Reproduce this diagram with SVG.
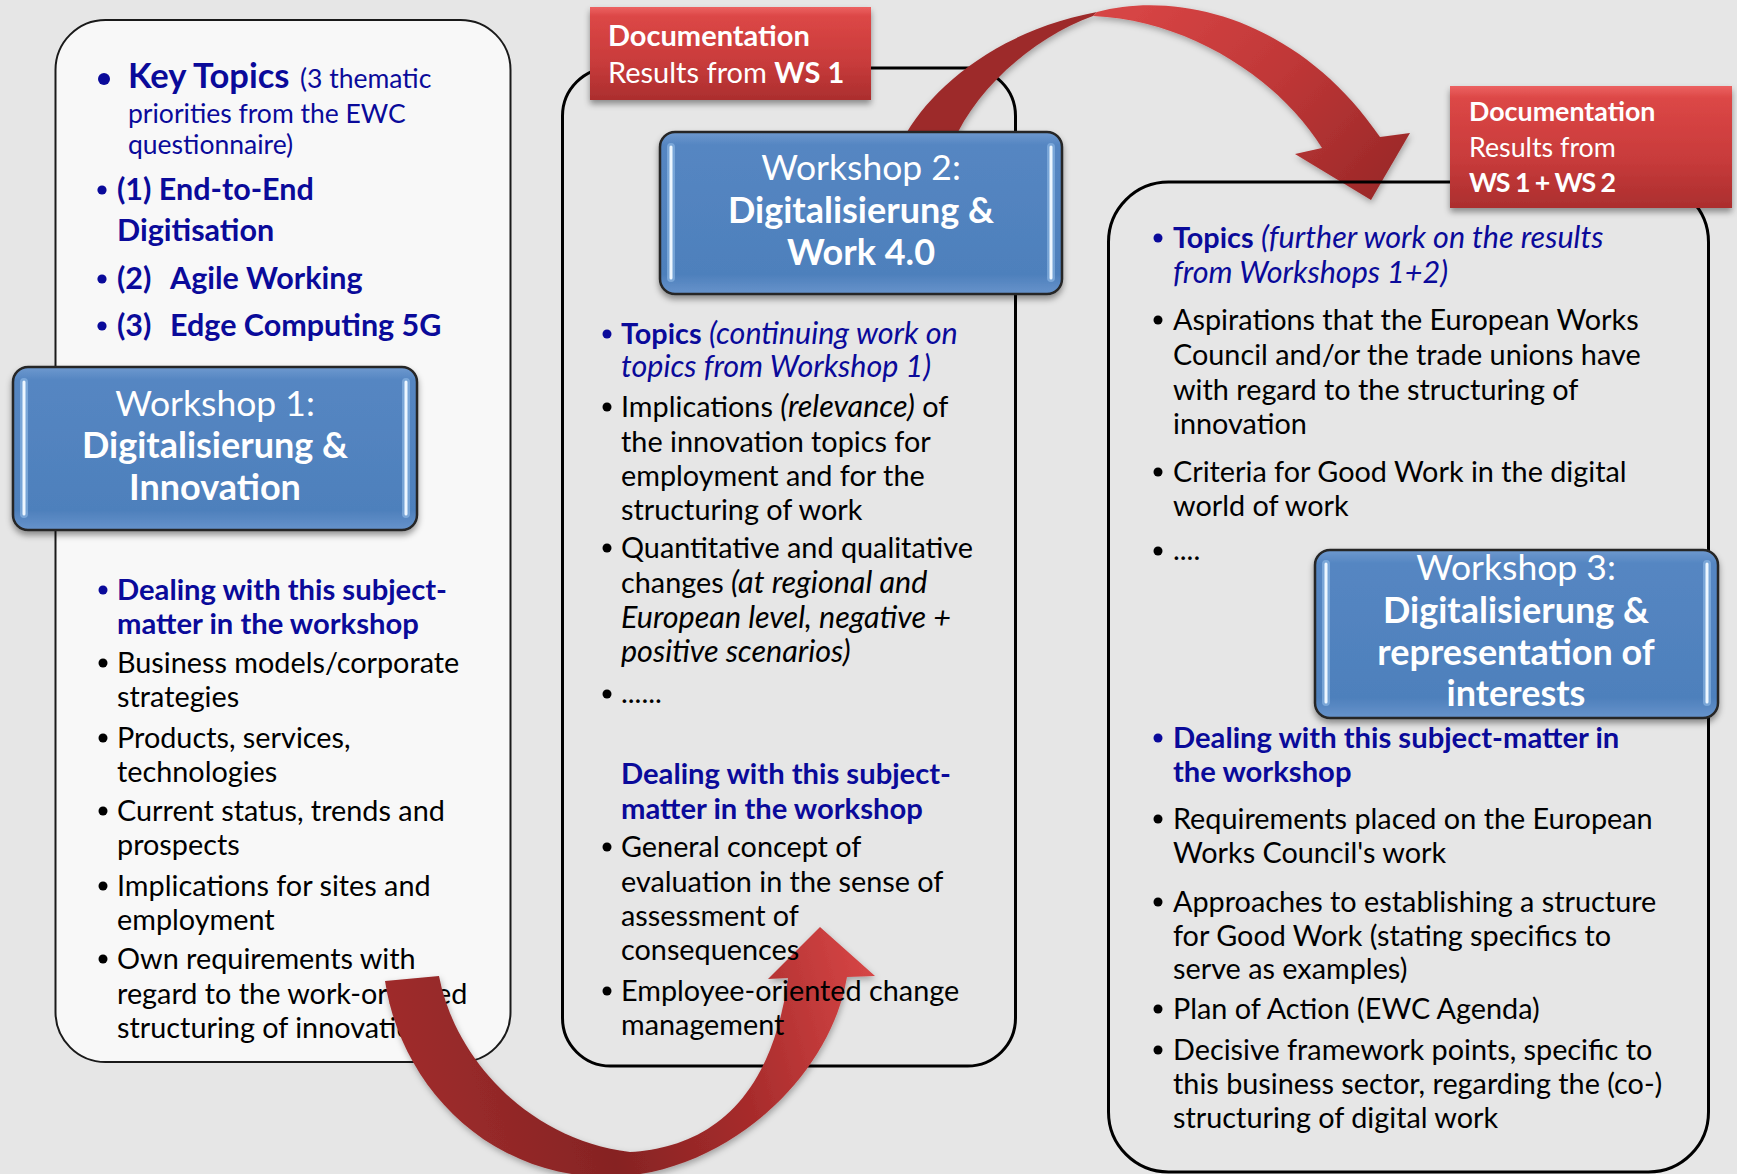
<svg xmlns="http://www.w3.org/2000/svg" width="1737" height="1174" viewBox="0 0 1737 1174">
<defs>
<style>
.f{font-family:Lato,"Open Sans","Liberation Sans",sans-serif}
.tx{font-size:28.8px;fill:#000}
.tx.bd{font-size:29.2px}
.bl{fill:#0a0a9a}
.bd{font-weight:700}
.it{font-style:italic;font-size:30.5px}
.kt{font-size:34.5px}
.ks{font-size:26.5px}
.t1{font-size:30.5px}
.wsr{font-size:35.5px;fill:#fff;text-anchor:middle}
.wsr.bd{font-size:36px}
.doc{font-size:29px;fill:#fff}
.doc2{font-size:26.8px;fill:#fff}
.frame{fill:none;stroke:#000;stroke-width:3}
.blue{fill:url(#gBlue);stroke:#262626;stroke-width:2.5}
.strip{fill:none;stroke:#eef7ff;stroke-width:3;stroke-linecap:round}
.strip2{fill:none;stroke:#a6cff5;stroke-width:8;stroke-linecap:round;opacity:.45}
.bu{fill:#000}
.bb{fill:#0a0a9a}
.red{fill:url(#gRed)}
</style>
<linearGradient id="gBlue" x1="0" y1="0" x2="0" y2="1">
<stop offset="0" stop-color="#6e99cf"/>
<stop offset="0.08" stop-color="#5586c2"/>
<stop offset="0.88" stop-color="#4e80bc"/>
<stop offset="1" stop-color="#6793cb"/>
</linearGradient>
<linearGradient id="gRed" x1="0" y1="0" x2="0" y2="1">
<stop offset="0" stop-color="#ec6262"/>
<stop offset="0.1" stop-color="#dc4746"/>
<stop offset="0.6" stop-color="#c83b3b"/>
<stop offset="1" stop-color="#ab2e2e"/>
</linearGradient>
<linearGradient id="gArrB" gradientUnits="userSpaceOnUse" x1="385" y1="1050" x2="860" y2="930">
<stop offset="0" stop-color="#a12d2d"/>
<stop offset="0.4" stop-color="#862323"/>
<stop offset="0.7" stop-color="#a82c2c"/>
<stop offset="1" stop-color="#d54545"/>
</linearGradient>
<linearGradient id="gArrT" gradientUnits="userSpaceOnUse" x1="1150" y1="0" x2="1370" y2="200">
<stop offset="0" stop-color="#d64444"/>
<stop offset="0.5" stop-color="#bf3737"/>
<stop offset="1" stop-color="#9c2929"/>
</linearGradient>
<filter id="sh" x="-10%" y="-15%" width="120%" height="140%">
<feDropShadow dx="0" dy="4" stdDeviation="3" flood-color="#000" flood-opacity="0.4"/>
</filter>
<filter id="sha" x="-10%" y="-10%" width="120%" height="130%">
<feDropShadow dx="1" dy="3" stdDeviation="3" flood-color="#000" flood-opacity="0.3"/>
</filter>
</defs>

<rect x="0" y="0" width="1737" height="1174" fill="#e6e6e6"/>

<!-- Workshop 1 node -->
<g id="ws1" class="f">
<rect x="55.5" y="20" width="455" height="1042" rx="50" fill="#f8f8f8" stroke="#1a1a1a" stroke-width="2"/>
<circle class="bb" cx="104" cy="79" r="6"/>
<text class="bl" y="88"><tspan x="128" class="bd kt">Key Topics</tspan><tspan x="300" class="ks">(3 thematic</tspan></text>
<text class="bl ks" x="128" y="123">priorities from the EWC</text>
<text class="bl ks" x="128" y="154">questionnaire)</text>
<circle class="bb" cx="102" cy="190" r="4.6"/>
<text class="bl bd t1" x="117" y="200">(1) End-to-End</text>
<text class="bl bd t1" x="117" y="241">Digitisation</text>
<circle class="bb" cx="102" cy="279" r="4.6"/>
<text class="bl bd t1" y="289"><tspan x="117">(2)</tspan><tspan x="170">Agile Working</tspan></text>
<circle class="bb" cx="102" cy="326" r="4.6"/>
<text class="bl bd t1" y="336"><tspan x="117">(3)</tspan><tspan x="170">Edge Computing 5G</tspan></text>

<circle class="bb" cx="103" cy="590" r="4.5"/>
<text class="tx bl bd" x="117" y="600">Dealing with this subject-</text>
<text class="tx bl bd" x="117" y="634">matter in the workshop</text>
<circle class="bu" cx="103" cy="663" r="4.5"/>
<text class="tx" x="117" y="673">Business models/corporate</text>
<text class="tx" x="117" y="707">strategies</text>
<circle class="bu" cx="103" cy="738" r="4.5"/>
<text class="tx" x="117" y="748">Products, services,</text>
<text class="tx" x="117" y="782">technologies</text>
<circle class="bu" cx="103" cy="811" r="4.5"/>
<text class="tx" x="117" y="821">Current status, trends and</text>
<text class="tx" x="117" y="855">prospects</text>
<circle class="bu" cx="103" cy="886" r="4.5"/>
<text class="tx" x="117" y="896">Implications for sites and</text>
<text class="tx" x="117" y="930">employment</text>
<circle class="bu" cx="103" cy="959" r="4.5"/>
<text class="tx" x="117" y="969">Own requirements with</text>
<text class="tx" x="117" y="1004">regard to the work-oriented</text>
<text class="tx" x="117" y="1038">structuring of innovation</text>

<g filter="url(#sh)">
<rect class="blue" x="13" y="367" width="404" height="163" rx="15"/>
</g>
<path class="strip2" d="M24,382 V514 M406,382 V514"/>
<path class="strip" d="M24,382 V514 M406,382 V514"/>
<text class="wsr" x="215" y="416">Workshop 1:</text>
<text class="wsr bd" x="215" y="458">Digitalisierung &amp;</text>
<text class="wsr bd" x="215" y="500">Innovation</text>
</g>

<!-- Workshop 2 frame -->
<g id="ws2-frame">
<rect class="frame" x="562.5" y="68" width="453" height="998" rx="48"/>
</g>

<!-- Connectors -->
<g id="connectors">
<path id="arrow-ws1-ws2" filter="url(#sha)" fill="url(#gArrB)" d="M385,981 L439,976 C455,1060 530,1140 630,1152 C700,1148 770,1110 788,978 L768,979 L820,927 L875,976 L847,977 C830,1080 720,1180 600,1177 C480,1172 400,1080 385,981 Z"/>
<g id="arrow-ws2-ws3" filter="url(#sha)">
<path fill="#9d2a2a" d="M905,150 L907,132 C935,85 1000,30 1097,12 L1093,16 C1040,35 985,80 958,132 L958,150 Z"/>
<path fill="url(#gArrT)" d="M1097,12 C1180,-10 1300,20 1380,137 L1410,133 L1371,200 L1295,154 L1322,148 C1280,80 1190,20 1093,16 Z"/>
</g>
</g>

<!-- Workshop 2 node -->
<g id="ws2" class="f">
<circle class="bb" cx="607" cy="334" r="4.5"/>
<text class="tx bl" x="621" y="344"><tspan class="bd">Topics</tspan> <tspan class="it">(continuing work on</tspan></text>
<text class="tx bl it" x="621" y="377">topics from Workshop 1)</text>
<circle class="bu" cx="607" cy="407" r="4.5"/>
<text class="tx" x="621" y="417">Implications <tspan class="it">(relevance)</tspan> of</text>
<text class="tx" x="621" y="452">the innovation topics for</text>
<text class="tx" x="621" y="486">employment and for the</text>
<text class="tx" x="621" y="520">structuring of work</text>
<circle class="bu" cx="607" cy="548" r="4.5"/>
<text class="tx" x="621" y="558">Quantitative and qualitative</text>
<text class="tx" x="621" y="593">changes <tspan class="it">(at regional and</tspan></text>
<text class="tx it" x="621" y="628">European level, negative +</text>
<text class="tx it" x="621" y="662">positive scenarios)</text>
<circle class="bu" cx="607" cy="694" r="4.5"/>
<text class="tx" x="621" y="703">......</text>
<text class="tx bl bd" x="621" y="784">Dealing with this subject-</text>
<text class="tx bl bd" x="621" y="819">matter in the workshop</text>
<circle class="bu" cx="607" cy="847" r="4.5"/>
<text class="tx" x="621" y="857">General concept of</text>
<text class="tx" x="621" y="892">evaluation in the sense of</text>
<text class="tx" x="621" y="926">assessment of</text>
<text class="tx" x="621" y="960">consequences</text>
<circle class="bu" cx="607" cy="991" r="4.5"/>
<text class="tx" x="621" y="1001">Employee-oriented change</text>
<text class="tx" x="621" y="1035">management</text>

<g filter="url(#sh)">
<rect class="blue" x="660" y="132" width="402" height="162" rx="15"/>
</g>
<path class="strip2" d="M671,147 V278 M1051,147 V278"/>
<path class="strip" d="M671,147 V278 M1051,147 V278"/>
<text class="wsr" x="861" y="180">Workshop 2:</text>
<text class="wsr bd" x="861" y="223">Digitalisierung &amp;</text>
<text class="wsr bd" x="861" y="265">Work 4.0</text>
</g>

<!-- Documentation WS1 -->
<g id="doc1" class="f">
<rect class="red" x="590" y="7" width="281" height="93" filter="url(#sh)"/>
<text class="doc bd" x="608" y="46">Documentation</text>
<text class="doc" x="608" y="83">Results from <tspan class="bd">WS 1</tspan></text>
</g>

<!-- Workshop 3 node -->
<g id="ws3" class="f">
<rect class="frame" x="1108.5" y="182" width="600" height="990" rx="60"/>
<circle class="bb" cx="1158" cy="238" r="4.5"/>
<text class="tx bl" x="1173" y="248"><tspan class="bd">Topics</tspan> <tspan class="it">(further work on the results</tspan></text>
<text class="tx bl it" x="1173" y="283">from Workshops 1+2)</text>
<circle class="bu" cx="1158" cy="320" r="4.5"/>
<text class="tx" x="1173" y="330">Aspirations that the European Works</text>
<text class="tx" x="1173" y="365">Council and/or the trade unions have</text>
<text class="tx" x="1173" y="400">with regard to the structuring of</text>
<text class="tx" x="1173" y="434">innovation</text>
<circle class="bu" cx="1158" cy="472" r="4.5"/>
<text class="tx" x="1173" y="482">Criteria for Good Work in the digital</text>
<text class="tx" x="1173" y="516">world of work</text>
<circle class="bu" cx="1158" cy="551" r="4.5"/>
<text class="tx" x="1173" y="560">....</text>
<circle class="bb" cx="1158" cy="738" r="4.5"/>
<text class="tx bl bd" x="1173" y="748">Dealing with this subject-matter in</text>
<text class="tx bl bd" x="1173" y="782">the workshop</text>
<circle class="bu" cx="1158" cy="819" r="4.5"/>
<text class="tx" x="1173" y="829">Requirements placed on the European</text>
<text class="tx" x="1173" y="863">Works Council's work</text>
<circle class="bu" cx="1158" cy="902" r="4.5"/>
<text class="tx" x="1173" y="912">Approaches to establishing a structure</text>
<text class="tx" x="1173" y="946">for Good Work (stating specifics to</text>
<text class="tx" x="1173" y="979">serve as examples)</text>
<circle class="bu" cx="1158" cy="1009" r="4.5"/>
<text class="tx" x="1173" y="1019">Plan of Action (EWC Agenda)</text>
<circle class="bu" cx="1158" cy="1050" r="4.5"/>
<text class="tx" x="1173" y="1060">Decisive framework points, specific to</text>
<text class="tx" x="1173" y="1094">this business sector, regarding the (co-)</text>
<text class="tx" x="1173" y="1128">structuring of digital work</text>

<g filter="url(#sh)">
<rect class="blue" x="1315" y="550" width="403" height="168" rx="15"/>
</g>
<path class="strip2" d="M1326,564 V702 M1707,564 V702"/>
<path class="strip" d="M1326,564 V702 M1707,564 V702"/>
<text class="wsr" x="1516" y="580">Workshop 3:</text>
<text class="wsr bd" x="1516" y="623">Digitalisierung &amp;</text>
<text class="wsr bd" x="1516" y="665">representation of</text>
<text class="wsr bd" x="1516" y="706">interests</text>
</g>

<!-- Documentation WS1 + WS2 -->
<g id="doc2" class="f">
<rect class="red" x="1450" y="86" width="282" height="122" filter="url(#sh)"/>
<text class="doc2 bd" x="1469" y="121">Documentation</text>
<text class="doc2" x="1469" y="157">Results from</text>
<text class="doc2 bd" x="1469" y="192" textLength="147" lengthAdjust="spacing">WS 1 + WS 2</text>
</g>
</svg>
